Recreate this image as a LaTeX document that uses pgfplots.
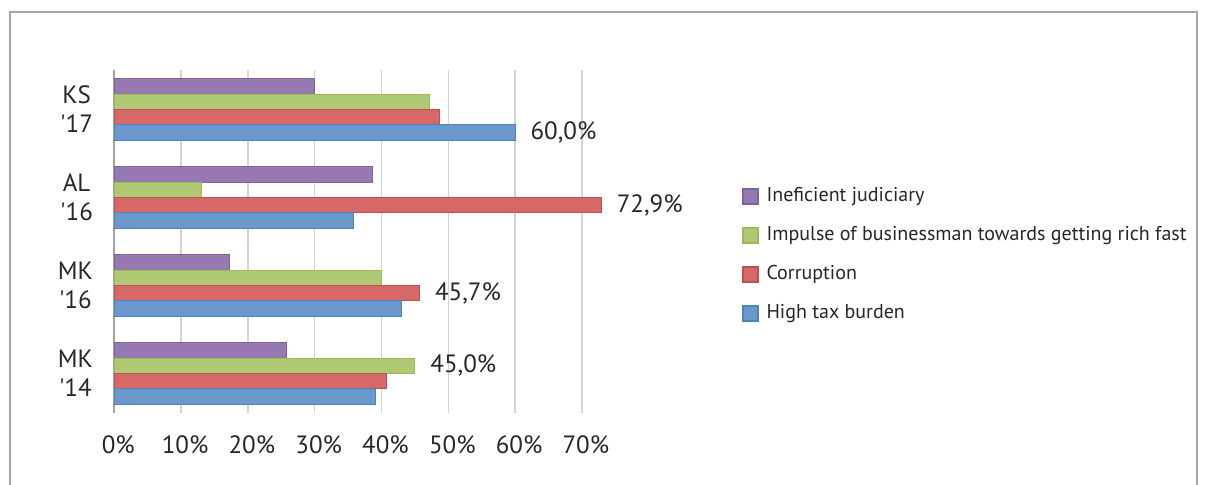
\documentclass[border=0pt]{standalone}
\usepackage{fontspec}
\setmainfont{PT Sans}
\usepackage{pgfplots}
\pgfplotsset{compat=1.18}
\usepackage{pgfplotstable}

\definecolor{cpurple}{HTML}{9579B0}
\definecolor{cpurpleD}{HTML}{7F62A1}
\definecolor{cgreen}{HTML}{AFC873}
\definecolor{cgreenD}{HTML}{9BBB59}
\definecolor{cred}{HTML}{D66968}
\definecolor{credD}{HTML}{C0504D}
\definecolor{cblue}{HTML}{6A98CC}
\definecolor{cblueD}{HTML}{4F81BD}
\definecolor{gridc}{HTML}{D4D4D4}
\definecolor{axisc}{HTML}{A6A6A6}
\definecolor{framec}{HTML}{A6A6A6}
\definecolor{textc}{HTML}{262626}

% y: 0 = MK '14, 1 = MK '16, 2 = AL '16, 3 = KS '17
\pgfplotstableread{
y x lab
0 25.8 {}
1 17.2 {}
2 38.7 {}
3 30.0 {}
}\judtab
\pgfplotstableread{
y x lab
0 45.0 45,0\%
1 40.0 {}
2 13.0 {}
3 47.2 {}
}\imptab
\pgfplotstableread{
y x lab
0 40.7 {}
1 45.7 45,7\%
2 72.9 72,9\%
3 48.7 {}
}\cortab
\pgfplotstableread{
y x lab
0 39.1 {}
1 43.0 {}
2 35.8 {}
3 60.0 60,0\%
}\taxtab

\begin{document}
\begin{tikzpicture}[font=\fontsize{12.5}{14.4}\selectfont, text=textc]
\useasboundingbox (-57.15pt,-35.5pt) rectangle (545.35pt,206.5pt);
\draw[framec, line width=0.8pt] (-52.15pt,-40pt) -- (-52.15pt,200.5pt) -- (541.35pt,200.5pt) -- (541.35pt,-40pt);
\begin{axis}[
  at={(0pt,0pt)}, anchor=south west,
  scale only axis, width=250.5pt, height=171.6pt,
  xmin=0, xmax=75, ymin=-0.45, ymax=3.45,
  xbar, bar width=7.7pt,
  axis line style={draw=none},
  xtick={10,20,30,40,50,60,70},
  xticklabels={10\%,20\%,30\%,40\%,50\%,60\%,70\%},
  extra x ticks={0}, extra x tick labels={0\%},
  extra x tick style={grid style={axisc, line width=1pt}},
  xmajorgrids, grid style={gridc, line width=0.7pt},
  major tick length=0pt,
  ytick={0,1,2,3},
  yticklabels={{MK\\\textquotesingle14},{MK\\\textquotesingle16},{AL\\\textquotesingle16},{KS\\\textquotesingle17}},
  yticklabel style={align=center, inner sep=0pt, xshift=-10.5pt},
  xticklabel style={inner sep=0pt, yshift=-11pt, xshift=2pt},
  point meta=explicit symbolic,
  nodes near coords={\pgfplotspointmeta},
  nodes near coords style={anchor=west, inner sep=0pt, xshift=7.5pt, font=\fontsize{12.5}{14}\selectfont},
  clip=false,
  legend style={at={(1.2529,0.4604)}, anchor=west, draw=none, fill=none,
    font=\fontsize{10}{12}\selectfont, row sep=9.5pt, inner sep=0pt,
    nodes={inner sep=0pt, text height=7.5pt, text depth=2.5pt}},
  legend cell align=left,
  legend image code/.code={\draw[#1, line width=0.6pt] (0pt,-3.75pt) rectangle (7.5pt,3.75pt); \path (11.5pt,0pt);},
]
\addplot[fill=cpurple, draw=cpurpleD, line width=0.5pt, bar shift=11.55pt] table[x=x, y=y, meta=lab] {\judtab};
\addlegendentry{Ineficient judiciary}
\addplot[fill=cgreen, draw=cgreenD, line width=0.5pt, bar shift=3.85pt] table[x=x, y=y, meta=lab] {\imptab};
\addlegendentry{Impulse of businessman towards getting rich fast}
\addplot[fill=cred, draw=credD, line width=0.5pt, bar shift=-3.85pt] table[x=x, y=y, meta=lab] {\cortab};
\addlegendentry{Corruption}
\addplot[fill=cblue, draw=cblueD, line width=0.5pt, bar shift=-11.55pt] table[x=x, y=y, meta=lab] {\taxtab};
\addlegendentry{High tax burden}
\end{axis}
\end{tikzpicture}
\end{document}
